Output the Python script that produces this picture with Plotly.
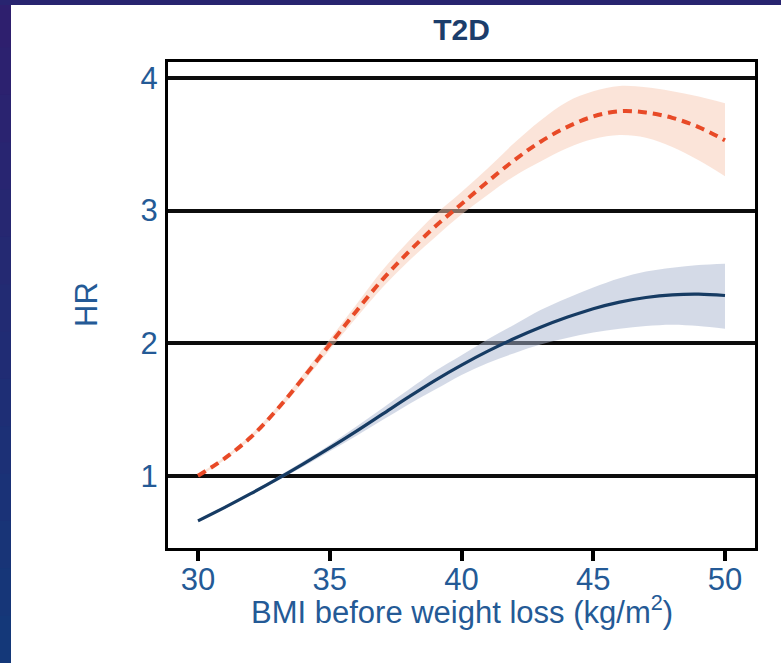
import plotly.graph_objects as go

# ---------------- data ----------------
bmi = [30, 31, 32, 33, 34, 35, 36, 37, 38, 39, 40, 41, 42, 43, 44, 45, 46, 47, 48, 49, 50]

# red dashed curve
hr_red = [1.00, 1.13, 1.29, 1.50, 1.74, 1.99, 2.24, 2.48, 2.69, 2.88, 3.05, 3.22, 3.38, 3.52, 3.63, 3.71, 3.75, 3.74, 3.70, 3.63, 3.53]
hr_red_lo = [0.99, 1.12, 1.28, 1.48, 1.71, 1.95, 2.19, 2.42, 2.62, 2.80, 2.97, 3.12, 3.26, 3.37, 3.47, 3.54, 3.57, 3.55, 3.48, 3.38, 3.26]
hr_red_hi = [1.01, 1.14, 1.31, 1.52, 1.77, 2.03, 2.29, 2.55, 2.77, 2.97, 3.14, 3.32, 3.51, 3.68, 3.82, 3.90, 3.94, 3.93, 3.90, 3.86, 3.81]

# navy solid curve
hr_blue = [0.66, 0.76, 0.865, 0.975, 1.09, 1.21, 1.335, 1.465, 1.595, 1.72, 1.835, 1.94, 2.035, 2.12, 2.195, 2.26, 2.31, 2.345, 2.365, 2.37, 2.36]
hr_blue_lo = [0.65, 0.75, 0.855, 0.96, 1.07, 1.185, 1.30, 1.42, 1.54, 1.65, 1.76, 1.85, 1.925, 1.99, 2.04, 2.08, 2.11, 2.13, 2.14, 2.13, 2.11]
hr_blue_hi = [0.67, 0.77, 0.875, 0.99, 1.11, 1.235, 1.37, 1.51, 1.65, 1.79, 1.91, 2.03, 2.14, 2.25, 2.34, 2.42, 2.49, 2.54, 2.57, 2.59, 2.60]

x_ticks = [30, 35, 40, 45, 50]
y_ticks = [1, 2, 3, 4]

title_text = "<b>T2D</b>"
x_title = "BMI before weight loss (kg/m<sup>2</sup>)"
y_title = "HR"

# ---------------- figure ----------------
W, H = 781, 663
L, R, T, B = 168, 26, 62, 115
pw, ph = W - L - R, H - T - B

FONT = "Liberation Sans, Arial, sans-serif"
LABEL = "#245a96"

fig = go.Figure()

# confidence bands (lower, then upper filled to lower)
fig.add_trace(go.Scatter(
    x=bmi, y=hr_red_lo, mode="lines", line=dict(width=0, shape="spline"),
    hoverinfo="skip", showlegend=False))
fig.add_trace(go.Scatter(
    x=bmi, y=hr_red_hi, mode="lines", line=dict(width=0, shape="spline"),
    fill="tonexty", fillcolor="rgba(247,201,179,0.5)",
    hoverinfo="skip", showlegend=False))
fig.add_trace(go.Scatter(
    x=bmi, y=hr_blue_lo, mode="lines", line=dict(width=0, shape="spline"),
    hoverinfo="skip", showlegend=False))
fig.add_trace(go.Scatter(
    x=bmi, y=hr_blue_hi, mode="lines", line=dict(width=0, shape="spline"),
    fill="tonexty", fillcolor="rgba(169,181,207,0.5)",
    hoverinfo="skip", showlegend=False))

fig.add_trace(go.Scatter(
    x=bmi, y=hr_blue, mode="lines",
    line=dict(color="#163b63", width=3.2, shape="spline"), showlegend=False))
fig.add_trace(go.Scatter(
    x=bmi, y=hr_red, mode="lines",
    line=dict(color="#e84a27", width=4, dash="9px,6px", shape="spline"), showlegend=False))


def px_x(p):
    return (p - L) / pw


def px_y(p):
    return (H - B - p) / ph


shapes = []
# dark slide background strips (vertical gradient on the left, band on top)
top_c = (47, 31, 110)
bot_c = (20, 57, 122)
n = 14
for i in range(n):
    f = (i + 0.5) / n
    c = tuple(int(top_c[k] + (bot_c[k] - top_c[k]) * f) for k in range(3))
    y0p = H * i / n
    y1p = H * (i + 1) / n
    shapes.append(dict(type="rect", xref="paper", yref="paper",
                       x0=px_x(0), x1=px_x(11), y0=px_y(y1p + 1), y1=px_y(y0p),
                       fillcolor="rgb(%d,%d,%d)" % c, line=dict(width=0), layer="above"))
shapes.append(dict(type="rect", xref="paper", yref="paper",
                   x0=px_x(0), x1=px_x(W), y0=px_y(5), y1=px_y(0),
                   fillcolor="rgb(40,36,112)", line=dict(width=0), layer="above"))

fig.update_layout(
    width=W, height=H,
    margin=dict(l=L, r=R, t=T, b=B, pad=0),
    paper_bgcolor="white", plot_bgcolor="white",
    font=dict(family=FONT, color=LABEL, size=31),
    title=dict(text=title_text, x=0.5, xref="paper", xanchor="center",
               y=1 - 29 / H, yref="container", yanchor="middle",
               font=dict(family=FONT, size=30, color="#1b3d6b")),
    shapes=shapes,
    showlegend=False,
    annotations=[
        dict(text=x_title, xref="paper", yref="paper", x=0.5, y=px_y(610),
             xanchor="center", yanchor="middle", showarrow=False,
             font=dict(family=FONT, size=31, color=LABEL)),
        dict(text=y_title, xref="paper", yref="paper", x=px_x(86), y=0.5,
             xanchor="center", yanchor="middle", showarrow=False, textangle=-90,
             font=dict(family=FONT, size=31, color=LABEL)),
    ],
)

fig.update_xaxes(
    range=[30 - 30 / 26.35, 50 + 30 / 26.35],
    tickvals=x_ticks, ticktext=[str(v) for v in x_ticks],
    ticks="outside", ticklen=10, tickwidth=4, tickcolor="black",
    ticklabelstandoff=-8,
    showgrid=False, zeroline=False,
    showline=True, linewidth=3, linecolor="black", mirror=True,
    tickfont=dict(family=FONT, size=31, color=LABEL),
)
fig.update_yaxes(
    range=[1 - 72 / 132.2, 4 + 16 / 132.2],
    tickvals=y_ticks, ticktext=[str(v) for v in y_ticks],
    ticks="", ticklabelstandoff=1,
    showgrid=True, gridcolor="#0d0d0d", gridwidth=4,
    zeroline=False,
    showline=True, linewidth=3, linecolor="black", mirror=True,
    tickfont=dict(family=FONT, size=31, color=LABEL),
)

fig.write_html("out.html")
